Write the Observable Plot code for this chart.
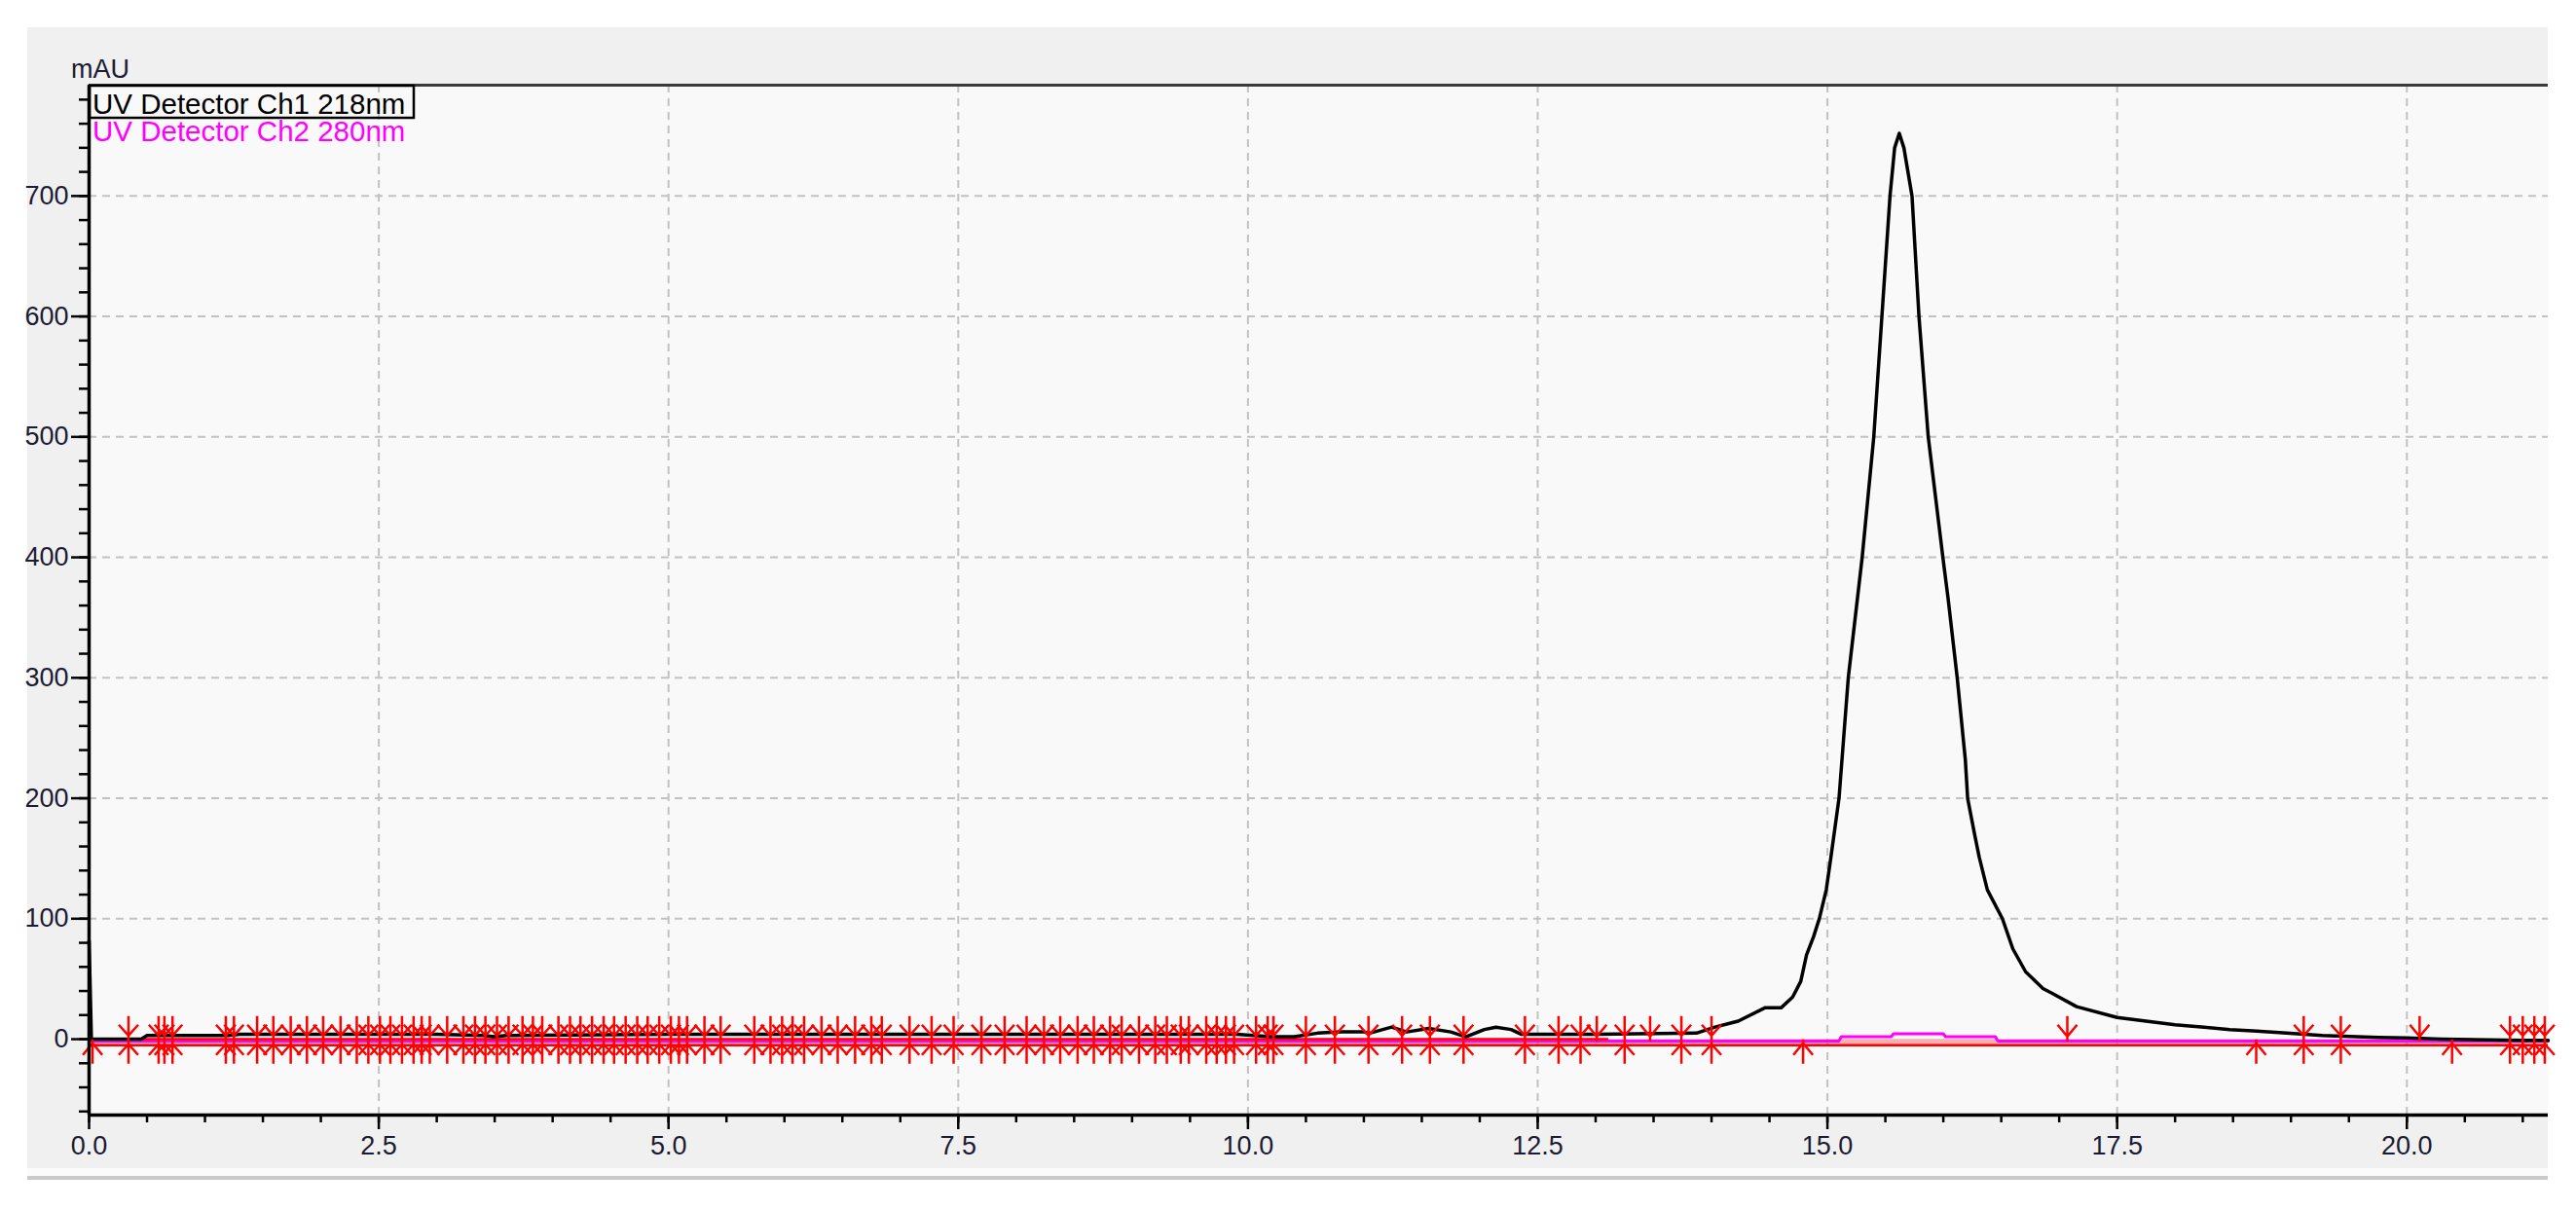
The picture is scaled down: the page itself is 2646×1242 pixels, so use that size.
<!DOCTYPE html>
<html>
<head>
<meta charset="utf-8">
<script src="https://cdn.jsdelivr.net/npm/d3@7"></script>
<script src="https://cdn.jsdelivr.net/npm/@observablehq/plot@0.6"></script>
<style>
  html, body { margin: 0; padding: 0; background: #ffffff; width: 2646px; height: 1242px; overflow: hidden; }
  #panel { position: absolute; left: 28px; top: 28px; width: 2589px; height: 1172px; background: #f0f0f0; }
  #chart { position: absolute; left: 0; top: 0; width: 2646px; height: 1242px; }
  #chart svg { display: block; max-width: none !important; width: 2646px; height: 1242px; }
  #scroll1 { position: absolute; left: 28px; top: 1200px; width: 2589px; height: 8px; background: #fbfbfb; }
  #scroll2 { position: absolute; left: 28px; top: 1208px; width: 2589px; height: 4px; background: #c9c9c9; }
  #overlay { position: absolute; left: 0; top: 0; pointer-events: none; }
</style>
</head>
<body>
<div id="panel"></div>
<div id="chart"></div>
<div id="scroll1"></div>
<div id="scroll2"></div>
<svg id="overlay" width="2646" height="1242"></svg>
<script>
// ---------------- data ----------------
const unitLabel = "mAU";
const seriesNames = ["UV Detector Ch1 218nm", "UV Detector Ch2 280nm"];
const seriesColors = ["#000000", "#ff00ff"];

// Ch1 218nm trace (time in min, absorbance in mAU)
const ch1Time = [0, 0.02, 0.45, 0.5, 1.2, 1.3, 2.5, 3.0, 3.4, 3.5, 3.6, 5.0, 7.5, 9.9, 10.2, 10.4, 10.6, 10.8, 11.0, 11.05,
  11.24, 11.37, 11.56, 11.75, 11.88, 12.04, 12.14, 12.27, 12.36, 13.0, 13.87, 14.03, 14.23, 14.46, 14.60, 14.70, 14.77,
  14.82, 14.88, 14.93, 14.99, 15.03, 15.10, 15.18, 15.30, 15.40, 15.47, 15.54, 15.58, 15.62, 15.66, 15.73, 15.79, 15.87,
  16.00, 16.04, 16.12, 16.19, 16.21, 16.27, 16.31, 16.38, 16.51, 16.60, 16.71, 16.86, 16.94, 17.15, 17.50, 17.75, 18.00,
  18.25, 18.47, 18.67, 18.90, 19.27, 19.75, 20.00, 20.30, 21.00, 21.22];
const ch1Value = [82, 0, 0, 3, 3, 4, 4, 4, 3, 2, 3, 4, 4, 4, 2, 2, 5, 6, 6, 5,
  10, 6, 9, 6, 2, 8, 10, 8, 4, 4, 5, 10, 15, 26, 26, 35, 48,
  70, 85, 100, 124, 151, 200, 300, 400, 500, 600, 700, 740, 752, 740, 700, 600, 500,
  397, 367, 300, 232, 200, 170, 151, 124, 100, 75, 56, 42, 38, 27, 18, 15, 12,
  10, 8, 7, 5.5, 3, 1.5, 1, 0, -1, -1];

// Ch2 280nm trace
const ch2Time = [0, 15.10, 15.12, 15.55, 15.57, 16.00, 16.02, 16.45, 16.47, 21.22];
const ch2Value = [-1.5, -1.5, 2, 2, 4.5, 4.5, 2, 2, -1.5, -1.5];

// integration baseline levels (mAU)
const baselineUpper = 0;
const baselineLower = -5;
const markerLevel = -1;

// peak start/end markers (min)
const markBoth = [0.34, 0.60, 0.65, 0.72, 1.18, 1.25, 1.45, 1.59, 1.74, 1.88, 2.02, 2.17, 2.31, 2.41, 2.51, 2.60, 2.70,
  2.80, 2.87, 2.94, 3.09, 3.23, 3.33, 3.42, 3.52, 3.62, 3.74, 3.83, 3.91, 4.05, 4.15, 4.24, 4.34, 4.44, 4.53, 4.63,
  4.73, 4.82, 4.92, 5.02, 5.09, 5.16, 5.31, 5.45, 5.74, 5.88, 5.98, 6.07, 6.17, 6.32, 6.46, 6.61, 6.75, 6.84, 7.08,
  7.27, 7.46, 7.70, 7.90, 8.09, 8.24, 8.38, 8.53, 8.67, 8.81, 8.91, 9.06, 9.20, 9.30, 9.42, 9.49, 9.64, 9.73, 9.81,
  9.88, 10.07, 10.17, 10.22, 10.50, 10.75, 11.04, 11.33, 11.57, 11.86, 12.39, 12.68, 12.87, 13.25, 13.74, 14.0,
  19.11, 19.43, 20.89, 21.00, 21.10, 21.19];
const markDown = [13.01, 13.47, 17.07, 20.11];
const markUp = [0.03, 14.79, 18.70, 20.39];

// axes
const xDomain = [0, 21.22];
const yDomain = [-63, 792];
const xTicks = [0, 2.5, 5, 7.5, 10, 12.5, 15, 17.5, 20];
const yTicks = [0, 100, 200, 300, 400, 500, 600, 700];
const xGrid = [2.5, 5, 7.5, 10, 12.5, 15, 17.5, 20];
const yGrid = [100, 200, 300, 400, 500, 600, 700];
const xMinor = d3.range(0, 21.2, 0.5);
const yMinor = d3.range(-60, 792, 20);

// ---------------- build ----------------
const ch1 = ch1Time.map((t, i) => ({t, v: ch1Value[i]}));
const ch2 = ch2Time.map((t, i) => ({t, v: ch2Value[i]}));
const toRows = arr => arr.map(t => ({t}));

const symBoth = {draw(c) {
  c.moveTo(0, -25); c.lineTo(0, 24);
  c.moveTo(-10, -16); c.lineTo(0, -5); c.lineTo(10, -16);
  c.moveTo(-10, 15); c.lineTo(0, 4); c.lineTo(10, 15);
}};
const symDown = {draw(c) {
  c.moveTo(0, -25); c.lineTo(0, 1);
  c.moveTo(-10, -16); c.lineTo(0, -4); c.lineTo(10, -16);
}};
const symUp = {draw(c) {
  c.moveTo(0, 24); c.lineTo(0, -1);
  c.moveTo(-10, 15); c.lineTo(0, 3); c.lineTo(10, 15);
}};

const font = "'Liberation Sans', Arial, sans-serif";
const textColor = "#1b1b33";

const chart = Plot.plot({
  width: 2646,
  height: 1242,
  marginLeft: 91,
  marginRight: 29,
  marginTop: 87,
  marginBottom: 97,
  style: {background: "transparent", fontFamily: font, overflow: "visible", maxWidth: "none"},
  x: {domain: xDomain, label: null},
  y: {domain: yDomain, label: null},
  marks: [
    Plot.frame({fill: "#f9f9f9", stroke: null}),
    Plot.gridX({ticks: xGrid, stroke: "#c2c2c2", strokeOpacity: 1, strokeWidth: 2, strokeDasharray: "8,6"}),
    Plot.gridY({ticks: yGrid, stroke: "#c2c2c2", strokeOpacity: 1, strokeWidth: 2, strokeDasharray: "8,6"}),
    // integration baseline band
    Plot.ruleY([(baselineUpper + baselineLower) / 2], {stroke: "#ff0000", strokeOpacity: 0.3, strokeWidth: 7}),
    Plot.line(ch2, {x: "t", y: "v", stroke: seriesColors[1], strokeWidth: 3}),
    Plot.line([{t: xDomain[0], v: baselineUpper}, {t: 13.1, v: baselineUpper}], {x: "t", y: "v", stroke: "#ff0000", strokeWidth: 2.5}),
    Plot.ruleY([baselineLower], {stroke: "#ff0000", strokeWidth: 2.5}),
    Plot.line(ch1, {x: "t", y: "v", stroke: seriesColors[0], strokeWidth: 3.5}),
    Plot.dot(toRows(markBoth), {x: "t", y: () => markerLevel, symbol: symBoth, fill: "none", stroke: "#ff0000", strokeWidth: 2.5}),
    Plot.dot(toRows(markDown), {x: "t", y: () => markerLevel, symbol: symDown, fill: "none", stroke: "#ff0000", strokeWidth: 2.5}),
    Plot.dot(toRows(markUp), {x: "t", y: () => markerLevel, symbol: symUp, fill: "none", stroke: "#ff0000", strokeWidth: 2.5}),
    // axis lines and border
    Plot.ruleX([xDomain[0]], {stroke: "#000", strokeWidth: 3.5}),
    Plot.ruleY([yDomain[0]], {stroke: "#000", strokeWidth: 3.5}),
    Plot.ruleY([yDomain[1]], {stroke: "#3a3a3a", strokeWidth: 3}),
    // ticks
    Plot.axisY({ticks: yMinor, tickSize: 10, tickFormat: () => "", stroke: "#000", strokeWidth: 2.5, label: null}),
    Plot.axisY({ticks: yTicks, tickSize: 18, tickPadding: 3, fontSize: 27, fill: textColor, stroke: "#000", strokeWidth: 2.5, label: null}),
    Plot.axisX({ticks: xMinor, tickSize: 8, tickFormat: () => "", stroke: "#000", strokeWidth: 2.5, label: null}),
    Plot.axisX({ticks: xTicks, tickSize: 15, tickPadding: 6, tickFormat: d => d.toFixed(1), fontSize: 27, fill: textColor, stroke: "#000", strokeWidth: 2.5, label: null})
  ]
});
document.getElementById("chart").appendChild(chart);

// ---------------- overlay: unit label and legend ----------------
const ov = d3.select("#overlay");
ov.append("text").attr("x", 73).attr("y", 80).attr("font-family", font).attr("font-size", 27)
  .attr("fill", textColor).text(unitLabel);
ov.append("rect").attr("x", 92).attr("y", 88).attr("width", 333).attr("height", 33)
  .attr("fill", "none").attr("stroke", "#000").attr("stroke-width", 2.5);
seriesNames.forEach((name, i) => {
  ov.append("text").attr("x", 95).attr("y", 117 + i * 28).attr("font-family", font).attr("font-size", 29.5)
    .attr("fill", seriesColors[i]).text(name);
});
</script>
</body>
</html>
